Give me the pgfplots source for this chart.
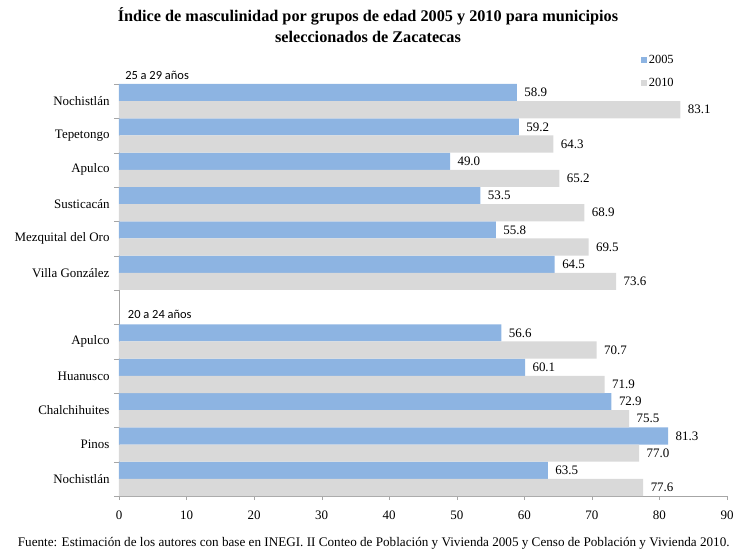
\documentclass[border=0pt]{standalone}
\usepackage{fontspec}
\setmainfont{Liberation Serif}
\newfontfamily\calfont{Carlito}
\usepackage{pgfplots}
\pgfplotsset{compat=1.18}
\definecolor{b05}{HTML}{8DB4E2}
\definecolor{g10}{HTML}{D9D9D9}
\definecolor{axg}{HTML}{A6A6A6}
\begin{document}
\begin{tikzpicture}
\path[use as bounding box] (-119bp,-56bp) rectangle (617bp,496bp);
\begin{axis}[
  at={(0,0)}, anchor=south west,
  scale only axis, width=608bp, height=412bp,
  clip=false,
  xbar, bar width=0.5,
  xmin=0, xmax=90, ymin=0, ymax=12,
  axis x line*=bottom, axis y line*=left,
  axis line style={axg},
  tick align=outside,
  major tick length=4bp, minor tick length=5bp,
  xtick={0,10,...,90},
  x tick style={axg},
  xticklabel style={yshift=-7bp},
  yticklabel style={xshift=-2bp},
  ytick={0.5,1.5,2.5,3.5,4.5,6.5,7.5,8.5,9.5,10.5,11.5},
  yticklabels={Nochistlán,Pinos,Chalchihuites,Huanusco,Apulco,Villa González,Mezquital del Oro,Susticacán,Apulco,Tepetongo,Nochistlán},
  major y tick style={draw=none},
  minor ytick={0,1,...,12},
  minor y tick style={axg},
  ticklabel style={font=\fontsize{13}{15}\selectfont},
  /pgf/number format/assume math mode=true,
  point meta=x,
  nodes near coords,
  nodes near coords style={font=\fontsize{13}{15}\selectfont, xshift=4bp,
     /pgf/number format/.cd, fixed, fixed zerofill, precision=1},
  title={Índice de masculinidad por grupos de edad 2005 y 2010 para municipios\\seleccionados de Zacatecas},
  title style={at={(0.4095,1.129)}, anchor=center, align=center, font=\bfseries\fontsize{16.3}{21}\selectfont},
  legend style={at={(0.853,1.08)}, anchor=north west, draw=none, fill=none,
     font=\fontsize{12.5}{14}\selectfont, row sep=9bp},
  legend cell align=left,
  legend image code/.code={\fill[#1] (0bp,-3bp) rectangle (6bp,3bp);},
]
\addplot[fill=b05, draw=none, bar shift=0.25] coordinates {
 (58.9,11.5) (59.2,10.5) (49.0,9.5) (53.5,8.5) (55.8,7.5) (64.5,6.5)
 (56.6,4.5) (60.1,3.5) (72.9,2.5) (81.3,1.5) (63.5,0.5)};
\addplot[fill=g10, draw=none, bar shift=-0.25] coordinates {
 (83.1,11.5) (64.3,10.5) (65.2,9.5) (68.9,8.5) (69.5,7.5) (73.6,6.5)
 (70.7,4.5) (71.9,3.5) (75.5,2.5) (77.0,1.5) (77.6,0.5)};
\legend{2005,2010}
\node[anchor=west, font=\calfont\fontsize{12.5}{14}\selectfont, inner sep=0pt] at (axis description cs:0.01,1.022) {25 a 29 años};
\node[anchor=west, font=\calfont\fontsize{12.5}{14}\selectfont, inner sep=0pt] at (axis cs:1.3,5.3) {20 a 24 años};
\node[font=\fontsize{13.2}{15}\selectfont] at (axis description cs:0.419,-0.116) {Fuente: Estimación de los autores con base en INEGI. II Conteo de Población y Vivienda 2005 y Censo de Población y Vivienda 2010.};
\end{axis}
\end{tikzpicture}
\end{document}
